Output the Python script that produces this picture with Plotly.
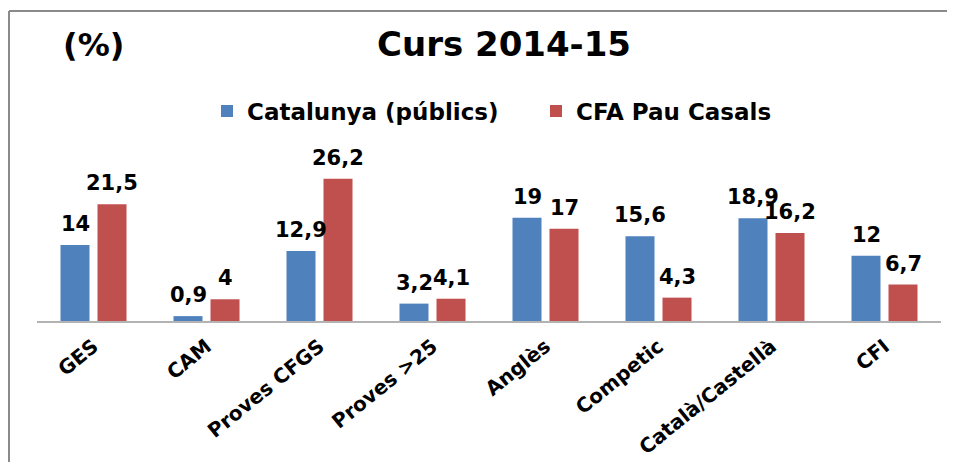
import plotly.graph_objects as go

categories = ["GES", "CAM", "Proves CFGS", "Proves >25", "Anglès", "Competic", "Català/Castellà", "CFI"]
catalunya = [14, 0.9, 12.9, 3.2, 19, 15.6, 18.9, 12]
cfa = [21.5, 4, 26.2, 4.1, 17, 4.3, 16.2, 6.7]
series_names = ["Catalunya (públics)", "CFA Pau Casals"]
colors = ["#4F81BD", "#C0504D"]

# page body has an 8px margin: figure placed at (8, 8) in the window
OFF = 8
W, H = 939, 454
ML, MR, MT, MB = 37 - OFF, 6, 158 - OFF, 454 - (321 - OFF)
PW, PH = W - ML - MR, H - MT - MB

def fmt(v):
    return f"{v:g}".replace(".", ",")

FONT = "DejaVu Sans"

fig = go.Figure()
for name, vals, col in zip(series_names, [catalunya, cfa], colors):
    fig.add_trace(go.Bar(x=categories, y=vals, name=f"<b>{name}</b>", marker_color=col,
                         marker_line_width=0, hoverinfo="x+y"))

# value labels
bar_off = 18.5
ann = []
for vals, sh in [(catalunya, -bar_off), (cfa, bar_off)]:
    for c, v in zip(categories, vals):
        ann.append(dict(x=c, y=v, xref="x", yref="y", text=f"<b>{fmt(v)}</b>",
                        showarrow=False, xshift=sh, yshift=7, yanchor="bottom",
                        font=dict(family=FONT, size=21, color="black")))

# reference-pixel -> paper coordinates
def px(xp):
    return (xp - OFF - ML) / PW

def py(yp):
    return (H - MB - (yp - OFF)) / PH

ann.append(dict(x=px(93), y=py(45), xref="paper", yref="paper", text="<b>(%)</b>",
                showarrow=False, font=dict(family=FONT, size=32, color="black"),
                xanchor="center", yanchor="middle"))

shapes = [
    dict(type="line", xref="paper", yref="paper", x0=px(9), x1=px(960), y0=py(11), y1=py(11),
         line=dict(color="#8a8a8a", width=2)),
    dict(type="line", xref="paper", yref="paper", x0=px(9), x1=px(9), y0=py(11), y1=py(480),
         line=dict(color="#8a8a8a", width=2)),
]

fig.update_layout(
    width=W, height=H,
    margin=dict(l=ML, r=MR, t=MT, b=MB, autoexpand=False),
    paper_bgcolor="white", plot_bgcolor="white",
    barmode="group", bargap=0.345, bargroupgap=0.216,
    title=dict(text="<b>Curs 2014-15</b>", x=(504 - OFF) / W, xref="container", xanchor="center",
               y=1 - (44 - OFF) / H, yref="container", yanchor="middle",
               font=dict(family=FONT, size=34, color="black")),
    legend=dict(orientation="h", x=px(207), y=py(111), xanchor="left", yanchor="middle",
                font=dict(family=FONT, size=23, color="black"), traceorder="normal",
                entrywidth=284, entrywidthmode="pixels", bgcolor="rgba(0,0,0,0)"),
    xaxis=dict(showline=True, linecolor="#b3b3b3", linewidth=2, showgrid=False,
               tickangle=-39, ticks="", tickfont=dict(family=FONT, size=20, color="black"),
               tickprefix="<b>", ticksuffix="</b>", automargin=False, ticklabelstandoff=4),
    yaxis=dict(range=[0, 30], visible=False, showgrid=False, zeroline=False, automargin=False),
    annotations=ann, shapes=shapes, showlegend=True,
)

fig.write_html("out.html")
